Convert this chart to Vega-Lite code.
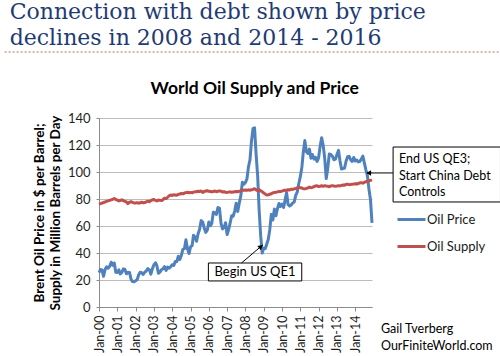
{
  "$schema": "https://vega.github.io/schema/vega-lite/v6.json",
  "width": 273,
  "height": 189,
  "autosize": {"type": "none"},
  "padding": {"left": 99, "top": 118, "right": 128, "bottom": 49},
  "background": "white",
  "config": {"view": {"stroke": null}, "font": "Lato"},
  "datasets": {
    "oil": [
      {"date":"2000-01","series":"Oil Price","value":25.51},{"date":"2000-02","series":"Oil Price","value":27.78},{"date":"2000-03","series":"Oil Price","value":27.49},{"date":"2000-04","series":"Oil Price","value":22.76},{"date":"2000-05","series":"Oil Price","value":27.74},{"date":"2000-06","series":"Oil Price","value":29.80},{"date":"2000-07","series":"Oil Price","value":28.68},{"date":"2000-08","series":"Oil Price","value":30.20},{"date":"2000-09","series":"Oil Price","value":33.14},{"date":"2000-10","series":"Oil Price","value":30.96},{"date":"2000-11","series":"Oil Price","value":32.55},{"date":"2000-12","series":"Oil Price","value":25.66},
      {"date":"2001-01","series":"Oil Price","value":25.62},{"date":"2001-02","series":"Oil Price","value":27.50},{"date":"2001-03","series":"Oil Price","value":24.50},{"date":"2001-04","series":"Oil Price","value":25.66},{"date":"2001-05","series":"Oil Price","value":28.31},{"date":"2001-06","series":"Oil Price","value":27.85},{"date":"2001-07","series":"Oil Price","value":24.61},{"date":"2001-08","series":"Oil Price","value":25.68},{"date":"2001-09","series":"Oil Price","value":25.62},{"date":"2001-10","series":"Oil Price","value":20.54},{"date":"2001-11","series":"Oil Price","value":18.80},{"date":"2001-12","series":"Oil Price","value":18.71},
      {"date":"2002-01","series":"Oil Price","value":19.42},{"date":"2002-02","series":"Oil Price","value":20.28},{"date":"2002-03","series":"Oil Price","value":23.70},{"date":"2002-04","series":"Oil Price","value":25.73},{"date":"2002-05","series":"Oil Price","value":25.35},{"date":"2002-06","series":"Oil Price","value":24.08},{"date":"2002-07","series":"Oil Price","value":25.74},{"date":"2002-08","series":"Oil Price","value":26.65},{"date":"2002-09","series":"Oil Price","value":28.40},{"date":"2002-10","series":"Oil Price","value":27.54},{"date":"2002-11","series":"Oil Price","value":24.34},{"date":"2002-12","series":"Oil Price","value":28.33},
      {"date":"2003-01","series":"Oil Price","value":31.18},{"date":"2003-02","series":"Oil Price","value":32.77},{"date":"2003-03","series":"Oil Price","value":30.61},{"date":"2003-04","series":"Oil Price","value":25.00},{"date":"2003-05","series":"Oil Price","value":25.86},{"date":"2003-06","series":"Oil Price","value":27.65},{"date":"2003-07","series":"Oil Price","value":28.35},{"date":"2003-08","series":"Oil Price","value":29.89},{"date":"2003-09","series":"Oil Price","value":27.11},{"date":"2003-10","series":"Oil Price","value":29.61},{"date":"2003-11","series":"Oil Price","value":28.75},{"date":"2003-12","series":"Oil Price","value":29.81},
      {"date":"2004-01","series":"Oil Price","value":31.28},{"date":"2004-02","series":"Oil Price","value":30.86},{"date":"2004-03","series":"Oil Price","value":33.63},{"date":"2004-04","series":"Oil Price","value":33.59},{"date":"2004-05","series":"Oil Price","value":37.57},{"date":"2004-06","series":"Oil Price","value":35.18},{"date":"2004-07","series":"Oil Price","value":38.22},{"date":"2004-08","series":"Oil Price","value":42.74},{"date":"2004-09","series":"Oil Price","value":43.20},{"date":"2004-10","series":"Oil Price","value":49.78},{"date":"2004-11","series":"Oil Price","value":43.11},{"date":"2004-12","series":"Oil Price","value":39.60},
      {"date":"2005-01","series":"Oil Price","value":44.51},{"date":"2005-02","series":"Oil Price","value":45.48},{"date":"2005-03","series":"Oil Price","value":53.10},{"date":"2005-04","series":"Oil Price","value":51.88},{"date":"2005-05","series":"Oil Price","value":48.65},{"date":"2005-06","series":"Oil Price","value":54.35},{"date":"2005-07","series":"Oil Price","value":57.52},{"date":"2005-08","series":"Oil Price","value":63.98},{"date":"2005-09","series":"Oil Price","value":62.91},{"date":"2005-10","series":"Oil Price","value":58.54},{"date":"2005-11","series":"Oil Price","value":55.24},{"date":"2005-12","series":"Oil Price","value":56.86},
      {"date":"2006-01","series":"Oil Price","value":62.99},{"date":"2006-02","series":"Oil Price","value":60.21},{"date":"2006-03","series":"Oil Price","value":62.06},{"date":"2006-04","series":"Oil Price","value":70.26},{"date":"2006-05","series":"Oil Price","value":69.78},{"date":"2006-06","series":"Oil Price","value":68.56},{"date":"2006-07","series":"Oil Price","value":73.67},{"date":"2006-08","series":"Oil Price","value":73.23},{"date":"2006-09","series":"Oil Price","value":61.96},{"date":"2006-10","series":"Oil Price","value":57.81},{"date":"2006-11","series":"Oil Price","value":58.76},{"date":"2006-12","series":"Oil Price","value":62.47},
      {"date":"2007-01","series":"Oil Price","value":53.68},{"date":"2007-02","series":"Oil Price","value":57.56},{"date":"2007-03","series":"Oil Price","value":62.05},{"date":"2007-04","series":"Oil Price","value":67.49},{"date":"2007-05","series":"Oil Price","value":67.21},{"date":"2007-06","series":"Oil Price","value":71.05},{"date":"2007-07","series":"Oil Price","value":76.93},{"date":"2007-08","series":"Oil Price","value":70.76},{"date":"2007-09","series":"Oil Price","value":77.17},{"date":"2007-10","series":"Oil Price","value":82.34},{"date":"2007-11","series":"Oil Price","value":92.41},{"date":"2007-12","series":"Oil Price","value":90.93},
      {"date":"2008-01","series":"Oil Price","value":92.18},{"date":"2008-02","series":"Oil Price","value":94.99},{"date":"2008-03","series":"Oil Price","value":103.64},{"date":"2008-04","series":"Oil Price","value":109.07},{"date":"2008-05","series":"Oil Price","value":122.80},{"date":"2008-06","series":"Oil Price","value":132.32},{"date":"2008-07","series":"Oil Price","value":132.72},{"date":"2008-08","series":"Oil Price","value":113.24},{"date":"2008-09","series":"Oil Price","value":97.23},{"date":"2008-10","series":"Oil Price","value":71.58},{"date":"2008-11","series":"Oil Price","value":52.45},{"date":"2008-12","series":"Oil Price","value":39.95},
      {"date":"2009-01","series":"Oil Price","value":43.44},{"date":"2009-02","series":"Oil Price","value":43.32},{"date":"2009-03","series":"Oil Price","value":46.54},{"date":"2009-04","series":"Oil Price","value":50.18},{"date":"2009-05","series":"Oil Price","value":57.30},{"date":"2009-06","series":"Oil Price","value":68.61},{"date":"2009-07","series":"Oil Price","value":64.44},{"date":"2009-08","series":"Oil Price","value":72.51},{"date":"2009-09","series":"Oil Price","value":67.65},{"date":"2009-10","series":"Oil Price","value":72.77},{"date":"2009-11","series":"Oil Price","value":76.66},{"date":"2009-12","series":"Oil Price","value":74.46},
      {"date":"2010-01","series":"Oil Price","value":76.17},{"date":"2010-02","series":"Oil Price","value":73.75},{"date":"2010-03","series":"Oil Price","value":78.83},{"date":"2010-04","series":"Oil Price","value":84.82},{"date":"2010-05","series":"Oil Price","value":75.95},{"date":"2010-06","series":"Oil Price","value":74.76},{"date":"2010-07","series":"Oil Price","value":75.58},{"date":"2010-08","series":"Oil Price","value":77.04},{"date":"2010-09","series":"Oil Price","value":77.84},{"date":"2010-10","series":"Oil Price","value":82.67},{"date":"2010-11","series":"Oil Price","value":85.28},{"date":"2010-12","series":"Oil Price","value":91.45},
      {"date":"2011-01","series":"Oil Price","value":96.52},{"date":"2011-02","series":"Oil Price","value":103.72},{"date":"2011-03","series":"Oil Price","value":114.64},{"date":"2011-04","series":"Oil Price","value":123.26},{"date":"2011-05","series":"Oil Price","value":114.99},{"date":"2011-06","series":"Oil Price","value":113.83},{"date":"2011-07","series":"Oil Price","value":116.97},{"date":"2011-08","series":"Oil Price","value":110.22},{"date":"2011-09","series":"Oil Price","value":112.83},{"date":"2011-10","series":"Oil Price","value":109.55},{"date":"2011-11","series":"Oil Price","value":110.77},{"date":"2011-12","series":"Oil Price","value":107.87},
      {"date":"2012-01","series":"Oil Price","value":110.69},{"date":"2012-02","series":"Oil Price","value":119.33},{"date":"2012-03","series":"Oil Price","value":125.45},{"date":"2012-04","series":"Oil Price","value":119.75},{"date":"2012-05","series":"Oil Price","value":110.34},{"date":"2012-06","series":"Oil Price","value":95.16},{"date":"2012-07","series":"Oil Price","value":102.62},{"date":"2012-08","series":"Oil Price","value":113.36},{"date":"2012-09","series":"Oil Price","value":112.86},{"date":"2012-10","series":"Oil Price","value":111.71},{"date":"2012-11","series":"Oil Price","value":109.06},{"date":"2012-12","series":"Oil Price","value":109.49},
      {"date":"2013-01","series":"Oil Price","value":112.96},{"date":"2013-02","series":"Oil Price","value":116.05},{"date":"2013-03","series":"Oil Price","value":108.47},{"date":"2013-04","series":"Oil Price","value":102.25},{"date":"2013-05","series":"Oil Price","value":102.56},{"date":"2013-06","series":"Oil Price","value":102.92},{"date":"2013-07","series":"Oil Price","value":107.93},{"date":"2013-08","series":"Oil Price","value":111.28},{"date":"2013-09","series":"Oil Price","value":111.60},{"date":"2013-10","series":"Oil Price","value":109.08},{"date":"2013-11","series":"Oil Price","value":107.79},{"date":"2013-12","series":"Oil Price","value":110.76},
      {"date":"2014-01","series":"Oil Price","value":108.12},{"date":"2014-02","series":"Oil Price","value":108.90},{"date":"2014-03","series":"Oil Price","value":107.48},{"date":"2014-04","series":"Oil Price","value":107.76},{"date":"2014-05","series":"Oil Price","value":109.54},{"date":"2014-06","series":"Oil Price","value":111.80},{"date":"2014-07","series":"Oil Price","value":106.77},{"date":"2014-08","series":"Oil Price","value":101.61},{"date":"2014-09","series":"Oil Price","value":97.09},{"date":"2014-10","series":"Oil Price","value":87.43},{"date":"2014-11","series":"Oil Price","value":79.44},{"date":"2014-12","series":"Oil Price","value":62.34},
      {"date":"2000-01","series":"Oil Supply","value":76.2},{"date":"2000-02","series":"Oil Supply","value":76.6},{"date":"2000-03","series":"Oil Supply","value":77.0},{"date":"2000-04","series":"Oil Supply","value":77.4},{"date":"2000-05","series":"Oil Supply","value":77.8},{"date":"2000-06","series":"Oil Supply","value":78.3},{"date":"2000-07","series":"Oil Supply","value":78.6},{"date":"2000-08","series":"Oil Supply","value":79.0},{"date":"2000-09","series":"Oil Supply","value":79.4},{"date":"2000-10","series":"Oil Supply","value":79.8},{"date":"2000-11","series":"Oil Supply","value":80.4},{"date":"2000-12","series":"Oil Supply","value":79.6},
      {"date":"2001-01","series":"Oil Supply","value":79.2},{"date":"2001-02","series":"Oil Supply","value":78.6},{"date":"2001-03","series":"Oil Supply","value":78.9},{"date":"2001-04","series":"Oil Supply","value":79.4},{"date":"2001-05","series":"Oil Supply","value":78.8},{"date":"2001-06","series":"Oil Supply","value":78.3},{"date":"2001-07","series":"Oil Supply","value":77.8},{"date":"2001-08","series":"Oil Supply","value":76.6},{"date":"2001-09","series":"Oil Supply","value":77.6},{"date":"2001-10","series":"Oil Supply","value":78.0},{"date":"2001-11","series":"Oil Supply","value":77.5},{"date":"2001-12","series":"Oil Supply","value":77.1},
      {"date":"2002-01","series":"Oil Supply","value":77.0},{"date":"2002-02","series":"Oil Supply","value":77.3},{"date":"2002-03","series":"Oil Supply","value":76.9},{"date":"2002-04","series":"Oil Supply","value":77.2},{"date":"2002-05","series":"Oil Supply","value":77.6},{"date":"2002-06","series":"Oil Supply","value":77.1},{"date":"2002-07","series":"Oil Supply","value":77.4},{"date":"2002-08","series":"Oil Supply","value":77.9},{"date":"2002-09","series":"Oil Supply","value":78.4},{"date":"2002-10","series":"Oil Supply","value":78.0},{"date":"2002-11","series":"Oil Supply","value":78.8},{"date":"2002-12","series":"Oil Supply","value":79.4},
      {"date":"2003-01","series":"Oil Supply","value":79.6},{"date":"2003-02","series":"Oil Supply","value":79.0},{"date":"2003-03","series":"Oil Supply","value":78.6},{"date":"2003-04","series":"Oil Supply","value":79.3},{"date":"2003-05","series":"Oil Supply","value":79.0},{"date":"2003-06","series":"Oil Supply","value":78.8},{"date":"2003-07","series":"Oil Supply","value":79.5},{"date":"2003-08","series":"Oil Supply","value":80.6},{"date":"2003-09","series":"Oil Supply","value":80.3},{"date":"2003-10","series":"Oil Supply","value":81.3},{"date":"2003-11","series":"Oil Supply","value":82.4},{"date":"2003-12","series":"Oil Supply","value":83.0},
      {"date":"2004-01","series":"Oil Supply","value":82.6},{"date":"2004-02","series":"Oil Supply","value":83.1},{"date":"2004-03","series":"Oil Supply","value":83.0},{"date":"2004-04","series":"Oil Supply","value":82.8},{"date":"2004-05","series":"Oil Supply","value":83.4},{"date":"2004-06","series":"Oil Supply","value":83.7},{"date":"2004-07","series":"Oil Supply","value":84.1},{"date":"2004-08","series":"Oil Supply","value":83.8},{"date":"2004-09","series":"Oil Supply","value":84.4},{"date":"2004-10","series":"Oil Supply","value":84.7},{"date":"2004-11","series":"Oil Supply","value":85.0},{"date":"2004-12","series":"Oil Supply","value":84.6},
      {"date":"2005-01","series":"Oil Supply","value":84.9},{"date":"2005-02","series":"Oil Supply","value":84.6},{"date":"2005-03","series":"Oil Supply","value":85.1},{"date":"2005-04","series":"Oil Supply","value":85.3},{"date":"2005-05","series":"Oil Supply","value":85.4},{"date":"2005-06","series":"Oil Supply","value":85.8},{"date":"2005-07","series":"Oil Supply","value":85.6},{"date":"2005-08","series":"Oil Supply","value":85.9},{"date":"2005-09","series":"Oil Supply","value":84.8},{"date":"2005-10","series":"Oil Supply","value":85.6},{"date":"2005-11","series":"Oil Supply","value":85.9},{"date":"2005-12","series":"Oil Supply","value":86.1},
      {"date":"2006-01","series":"Oil Supply","value":85.7},{"date":"2006-02","series":"Oil Supply","value":85.5},{"date":"2006-03","series":"Oil Supply","value":85.3},{"date":"2006-04","series":"Oil Supply","value":85.6},{"date":"2006-05","series":"Oil Supply","value":85.9},{"date":"2006-06","series":"Oil Supply","value":85.4},{"date":"2006-07","series":"Oil Supply","value":85.7},{"date":"2006-08","series":"Oil Supply","value":86.0},{"date":"2006-09","series":"Oil Supply","value":85.8},{"date":"2006-10","series":"Oil Supply","value":85.2},{"date":"2006-11","series":"Oil Supply","value":85.4},{"date":"2006-12","series":"Oil Supply","value":85.0},
      {"date":"2007-01","series":"Oil Supply","value":84.9},{"date":"2007-02","series":"Oil Supply","value":85.1},{"date":"2007-03","series":"Oil Supply","value":85.3},{"date":"2007-04","series":"Oil Supply","value":85.0},{"date":"2007-05","series":"Oil Supply","value":85.2},{"date":"2007-06","series":"Oil Supply","value":85.4},{"date":"2007-07","series":"Oil Supply","value":85.6},{"date":"2007-08","series":"Oil Supply","value":85.3},{"date":"2007-09","series":"Oil Supply","value":85.8},{"date":"2007-10","series":"Oil Supply","value":86.0},{"date":"2007-11","series":"Oil Supply","value":86.4},{"date":"2007-12","series":"Oil Supply","value":86.5},
      {"date":"2008-01","series":"Oil Supply","value":86.7},{"date":"2008-02","series":"Oil Supply","value":86.5},{"date":"2008-03","series":"Oil Supply","value":86.8},{"date":"2008-04","series":"Oil Supply","value":86.4},{"date":"2008-05","series":"Oil Supply","value":86.9},{"date":"2008-06","series":"Oil Supply","value":87.1},{"date":"2008-07","series":"Oil Supply","value":87.6},{"date":"2008-08","series":"Oil Supply","value":86.8},{"date":"2008-09","series":"Oil Supply","value":86.2},{"date":"2008-10","series":"Oil Supply","value":86.9},{"date":"2008-11","series":"Oil Supply","value":86.0},{"date":"2008-12","series":"Oil Supply","value":85.4},
      {"date":"2009-01","series":"Oil Supply","value":84.4},{"date":"2009-02","series":"Oil Supply","value":83.6},{"date":"2009-03","series":"Oil Supply","value":83.0},{"date":"2009-04","series":"Oil Supply","value":83.2},{"date":"2009-05","series":"Oil Supply","value":83.5},{"date":"2009-06","series":"Oil Supply","value":83.9},{"date":"2009-07","series":"Oil Supply","value":84.5},{"date":"2009-08","series":"Oil Supply","value":84.9},{"date":"2009-09","series":"Oil Supply","value":85.0},{"date":"2009-10","series":"Oil Supply","value":85.3},{"date":"2009-11","series":"Oil Supply","value":85.6},{"date":"2009-12","series":"Oil Supply","value":85.5},
      {"date":"2010-01","series":"Oil Supply","value":85.8},{"date":"2010-02","series":"Oil Supply","value":86.3},{"date":"2010-03","series":"Oil Supply","value":86.5},{"date":"2010-04","series":"Oil Supply","value":86.4},{"date":"2010-05","series":"Oil Supply","value":86.9},{"date":"2010-06","series":"Oil Supply","value":86.7},{"date":"2010-07","series":"Oil Supply","value":87.3},{"date":"2010-08","series":"Oil Supply","value":87.1},{"date":"2010-09","series":"Oil Supply","value":87.5},{"date":"2010-10","series":"Oil Supply","value":87.8},{"date":"2010-11","series":"Oil Supply","value":88.2},{"date":"2010-12","series":"Oil Supply","value":88.6},
      {"date":"2011-01","series":"Oil Supply","value":88.4},{"date":"2011-02","series":"Oil Supply","value":88.1},{"date":"2011-03","series":"Oil Supply","value":87.6},{"date":"2011-04","series":"Oil Supply","value":87.5},{"date":"2011-05","series":"Oil Supply","value":87.9},{"date":"2011-06","series":"Oil Supply","value":88.2},{"date":"2011-07","series":"Oil Supply","value":88.8},{"date":"2011-08","series":"Oil Supply","value":88.4},{"date":"2011-09","series":"Oil Supply","value":88.6},{"date":"2011-10","series":"Oil Supply","value":89.3},{"date":"2011-11","series":"Oil Supply","value":89.6},{"date":"2011-12","series":"Oil Supply","value":89.8},
      {"date":"2012-01","series":"Oil Supply","value":89.2},{"date":"2012-02","series":"Oil Supply","value":89.5},{"date":"2012-03","series":"Oil Supply","value":89.8},{"date":"2012-04","series":"Oil Supply","value":89.4},{"date":"2012-05","series":"Oil Supply","value":89.9},{"date":"2012-06","series":"Oil Supply","value":89.6},{"date":"2012-07","series":"Oil Supply","value":89.4},{"date":"2012-08","series":"Oil Supply","value":89.1},{"date":"2012-09","series":"Oil Supply","value":89.7},{"date":"2012-10","series":"Oil Supply","value":89.9},{"date":"2012-11","series":"Oil Supply","value":89.6},{"date":"2012-12","series":"Oil Supply","value":89.5},
      {"date":"2013-01","series":"Oil Supply","value":89.6},{"date":"2013-02","series":"Oil Supply","value":89.9},{"date":"2013-03","series":"Oil Supply","value":89.7},{"date":"2013-04","series":"Oil Supply","value":90.1},{"date":"2013-05","series":"Oil Supply","value":90.4},{"date":"2013-06","series":"Oil Supply","value":90.2},{"date":"2013-07","series":"Oil Supply","value":90.8},{"date":"2013-08","series":"Oil Supply","value":91.0},{"date":"2013-09","series":"Oil Supply","value":90.6},{"date":"2013-10","series":"Oil Supply","value":90.7},{"date":"2013-11","series":"Oil Supply","value":91.0},{"date":"2013-12","series":"Oil Supply","value":91.1},
      {"date":"2014-01","series":"Oil Supply","value":91.3},{"date":"2014-02","series":"Oil Supply","value":91.0},{"date":"2014-03","series":"Oil Supply","value":91.5},{"date":"2014-04","series":"Oil Supply","value":91.8},{"date":"2014-05","series":"Oil Supply","value":92.1},{"date":"2014-06","series":"Oil Supply","value":91.7},{"date":"2014-07","series":"Oil Supply","value":92.3},{"date":"2014-08","series":"Oil Supply","value":92.8},{"date":"2014-09","series":"Oil Supply","value":93.1},{"date":"2014-10","series":"Oil Supply","value":93.5},{"date":"2014-11","series":"Oil Supply","value":93.8},{"date":"2014-12","series":"Oil Supply","value":94.1}
    ],
    "notes": [
      {"kind": "header", "date": "1995-02-13", "value": 218.5, "label": "Connection with debt shown by price\ndeclines in 2008 and 2014 - 2016"},
      {"kind": "chart_title", "date": "2008-07-04", "value": 157.6, "label": "World Oil Supply and Price"},
      {"kind": "header_rule", "date": "1994-11-05", "date2": "2021-12-28", "value": 188.9},
      {"kind": "box", "date": "2005-12-23", "date2": "2011-01-29", "value": 32.6, "value2": 19.3},
      {"kind": "box", "date": "2016-01-26", "date2": "2021-12-08", "value": 118.5, "value2": 77.8},
      {"kind": "arrow", "date": "2007-10-15", "date2": "2008-12-09", "value": 32.6, "value2": 45.9},
      {"kind": "arrow", "date": "2016-01-26", "date2": "2014-08-23", "value": 99.3, "value2": 99.3},
      {"kind": "head_qe1", "date": "2008-10-24", "value": 44.4},
      {"kind": "head_qe3", "date": "2014-10-12", "value": 99.3},
      {"kind": "label_c", "date": "2008-07-11", "value": 25.9, "label": "Begin US QE1"},
      {"kind": "label_l", "date": "2016-05-24", "value": 109.6, "label": "End US QE3;\nStart China Debt\nControls"},
      {"kind": "label_l", "date": "2015-05-29", "value": -16.3, "label": "Gail Tverberg\nOurFiniteWorld.com"}
    ]
  },
  "encoding": {
    "x": {
      "field": "date", "type": "temporal",
      "scale": {"type": "utc", "domain": [{"year": 2000, "month": 1, "date": 1, "utc": true}, {"year": 2014, "month": 12, "date": 1, "utc": true}], "nice": false},
      "axis": {
        "title": null, "format": "%b-%y",
        "tickCount": {"interval": "year", "step": 1},
        "labelAngle": 270, "labelFont": "Lato", "labelFontSize": 12.5, "labelColor": "#1f1f1f",
        "labelPadding": 4, "labelFlush": false, "labelOverlap": false,
        "tickSize": 4, "tickColor": "#8c8c8c", "domainColor": "#8c8c8c", "grid": false
      }
    },
    "y": {
      "field": "value", "type": "quantitative",
      "scale": {"domain": [0, 140], "nice": false},
      "axis": {
        "values": [0, 20, 40, 60, 80, 100, 120, 140],
        "title": ["Brent Oil Price in $ per Barrel;", "Supply in Million Barrels per Day"],
        "titleFont": "Lato", "titleFontSize": 13.5, "titleFontWeight": "bold", "titleColor": "#000000",
        "titlePadding": 5,
        "labelFont": "Lato", "labelFontSize": 13, "labelColor": "#1f1f1f", "labelPadding": 6,
        "tickSize": 3, "tickColor": "#8c8c8c", "domainColor": "#8c8c8c",
        "grid": true, "gridColor": "#bcbcbc", "gridWidth": 1
      }
    }
  },
  "layer": [
    {
      "data": {"name": "oil"},
      "mark": {"type": "line", "strokeWidth": 3, "strokeJoin": "round"},
      "encoding": {
        "color": {
          "field": "series", "type": "nominal",
          "scale": {"domain": ["Oil Price", "Oil Supply"], "range": ["#4f81bd", "#c0504d"]},
          "legend": {
            "orient": "none", "legendX": 297, "legendY": 86, "title": null,
            "symbolType": "stroke", "symbolSize": 784, "symbolStrokeWidth": 3,
            "labelFont": "Lato", "labelFontSize": 13, "labelColor": "#1a1a1a",
            "rowPadding": 4, "labelOffset": 0, "padding": 0
          }
        }
      }
    },
    {
      "data": {"name": "notes"},
      "transform": [{"filter": "datum.kind === 'header_rule'"}],
      "mark": {"type": "rule", "color": "#e6b3b3", "strokeWidth": 2, "strokeDash": [2, 2]},
      "encoding": {"x2": {"field": "date2"}}
    },
    {
      "data": {"name": "notes"},
      "transform": [{"filter": "datum.kind === 'header'"}],
      "mark": {"type": "text", "align": "left", "baseline": "middle", "font": "DejaVu Serif", "fontSize": 22, "color": "#1f3b73", "lineBreak": "\n", "lineHeight": 26},
      "encoding": {"text": {"field": "label"}}
    },
    {
      "data": {"name": "notes"},
      "transform": [{"filter": "datum.kind === 'chart_title'"}],
      "mark": {"type": "text", "align": "center", "baseline": "alphabetic", "font": "Lato", "fontSize": 17.5, "fontWeight": "bold", "color": "#000000"},
      "encoding": {"text": {"field": "label"}}
    },
    {
      "data": {"name": "notes"},
      "transform": [{"filter": "datum.kind === 'box'"}],
      "mark": {"type": "rect", "fill": "white", "stroke": "#000000", "strokeWidth": 1},
      "encoding": {"x2": {"field": "date2"}, "y2": {"field": "value2"}}
    },
    {
      "data": {"name": "notes"},
      "transform": [{"filter": "datum.kind === 'arrow'"}],
      "mark": {"type": "rule", "color": "#000000", "strokeWidth": 1},
      "encoding": {"x2": {"field": "date2"}, "y2": {"field": "value2"}}
    },
    {
      "data": {"name": "notes"},
      "transform": [{"filter": "datum.kind === 'head_qe1'"}],
      "mark": {"type": "point", "shape": "triangle", "angle": 49, "filled": true, "color": "#000000", "size": 30, "opacity": 1}
    },
    {
      "data": {"name": "notes"},
      "transform": [{"filter": "datum.kind === 'head_qe3'"}],
      "mark": {"type": "point", "shape": "triangle", "angle": 270, "filled": true, "color": "#000000", "size": 30, "opacity": 1}
    },
    {
      "data": {"name": "notes"},
      "transform": [{"filter": "datum.kind === 'label_c'"}],
      "mark": {"type": "text", "align": "center", "baseline": "middle", "font": "Lato", "fontSize": 13, "color": "#000000"},
      "encoding": {"text": {"field": "label"}}
    },
    {
      "data": {"name": "notes"},
      "transform": [{"filter": "datum.kind === 'label_l'"}],
      "mark": {"type": "text", "align": "left", "baseline": "middle", "font": "Lato", "fontSize": 12.5, "color": "#000000", "lineBreak": "\n", "lineHeight": 16.5},
      "encoding": {"text": {"field": "label"}}
    }
  ]
}
